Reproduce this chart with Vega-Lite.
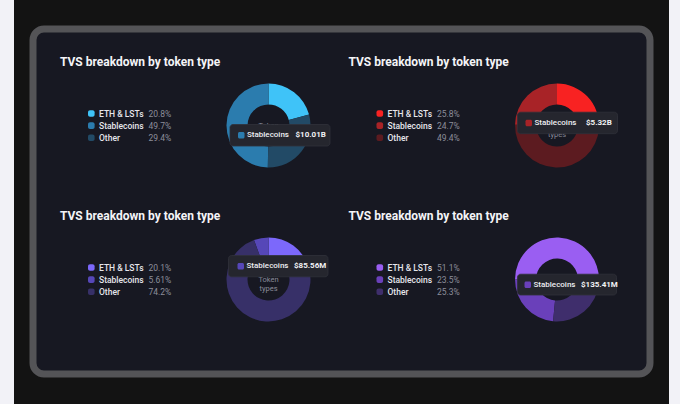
{
  "$schema": "https://vega.github.io/schema/vega-lite/v6.json",
  "background": "#131313",
  "padding": 0,
  "spacing": 15,
  "config": {"view": {"stroke": null}, "font": "Roboto"},
  "datasets": {
    "shares": [
      {"chart": "A", "col": 0, "row": 0, "token": "ETH & LSTs", "key": "A-ETH", "share": 0.208},
      {"chart": "A", "col": 0, "row": 0, "token": "Stablecoins", "key": "A-Stablecoins", "share": 0.497},
      {"chart": "A", "col": 0, "row": 0, "token": "Other", "key": "A-Other", "share": 0.294},
      {"chart": "B", "col": 1, "row": 0, "token": "ETH & LSTs", "key": "B-ETH", "share": 0.258},
      {"chart": "B", "col": 1, "row": 0, "token": "Stablecoins", "key": "B-Stablecoins", "share": 0.247},
      {"chart": "B", "col": 1, "row": 0, "token": "Other", "key": "B-Other", "share": 0.494},
      {"chart": "C", "col": 0, "row": 1, "token": "ETH & LSTs", "key": "C-ETH", "share": 0.201},
      {"chart": "C", "col": 0, "row": 1, "token": "Stablecoins", "key": "C-Stablecoins", "share": 0.0561},
      {"chart": "C", "col": 0, "row": 1, "token": "Other", "key": "C-Other", "share": 0.742},
      {"chart": "D", "col": 1, "row": 1, "token": "ETH & LSTs", "key": "D-ETH", "share": 0.511},
      {"chart": "D", "col": 1, "row": 1, "token": "Stablecoins", "key": "D-Stablecoins", "share": 0.235},
      {"chart": "D", "col": 1, "row": 1, "token": "Other", "key": "D-Other", "share": 0.253}
    ],
    "tips": [
      {"chart": "A", "col": 0, "row": 0, "token": "Stablecoins", "key": "A-Stablecoins", "value": "$10.01B"},
      {"chart": "B", "col": 1, "row": 0, "token": "Stablecoins", "key": "B-Stablecoins", "value": "$5.32B"},
      {"chart": "C", "col": 0, "row": 1, "token": "Stablecoins", "key": "C-Stablecoins", "value": "$85.56M"},
      {"chart": "D", "col": 1, "row": 1, "token": "Stablecoins", "key": "D-Stablecoins", "value": "$135.41M"}
    ]
  },
  "hconcat": [
    {
      "width": 14, "height": 404,
      "view": {"fill": "#f2f2f7", "stroke": null},
      "data": {"values": [{}]},
      "mark": {"type": "rect", "opacity": 0},
      "encoding": {}
    },
    {
      "spacing": 24,
      "vconcat": [
        {
          "width": 1, "height": 1,
          "data": {"values": [{}]},
          "mark": {"type": "rect", "opacity": 0},
          "encoding": {}
        },
        {
          "width": 617, "height": 345,
          "view": {"fill": "#171822", "stroke": "#545457", "strokeWidth": 7, "cornerRadius": 11},
          "data": {"name": "shares"},
          "encoding": {
            "x": {"field": "col", "type": "quantitative", "scale": {"domain": [0, 1], "range": [0, 288.5], "nice": false, "zero": false}, "axis": null},
            "y": {"field": "row", "type": "quantitative", "scale": {"domain": [0, 1], "range": [0, 154], "nice": false, "zero": false}, "axis": null}
          },
          "resolve": {"scale": {"theta": "independent"}},
          "layer": [
            {
              "transform": [{"filter": "datum.token === 'ETH & LSTs'"}],
              "mark": {"type": "text", "text": "TVS breakdown by token type", "align": "left", "baseline": "alphabetic", "fontSize": 12, "fontWeight": "bold", "color": "#f4f4f7", "xOffset": 27, "yOffset": 36.5}
            },
            {
              "transform": [
                {"filter": "datum.chart !== 'D'"},
                {"stack": "share", "groupby": ["chart"], "offset": "normalize", "sort": [{"field": "token", "order": "ascending"}], "as": ["t0", "t1"]}
              ],
              "mark": {"type": "arc", "outerRadius": 42, "innerRadius": 21, "xOffset": 235.5, "yOffset": 96.5},
              "encoding": {
                "theta": {"field": "t0", "type": "quantitative", "scale": {"domain": [0, 1], "range": [0, 6.2832]}},
                "theta2": {"field": "t1"},
                "color": {"field": "key", "type": "nominal", "legend": null, "scale": {"domain": ["A-ETH", "A-Stablecoins", "A-Other", "B-ETH", "B-Stablecoins", "B-Other", "C-ETH", "C-Stablecoins", "C-Other", "D-ETH", "D-Stablecoins", "D-Other"], "range": ["#3fc3f8", "#2b7cae", "#224a66", "#f82222", "#a82327", "#5c1b20", "#7c68fb", "#5647b8", "#373068", "#9a5ef2", "#6a40ba", "#3f2e6c"]}}
              }
            },
            {
              "transform": [
                {"filter": "datum.chart === 'D'"},
                {"stack": "share", "groupby": ["chart"], "offset": "normalize", "sort": [{"field": "token", "order": "ascending"}], "as": ["t0", "t1"]}
              ],
              "mark": {"type": "arc", "outerRadius": 42, "innerRadius": 21, "xOffset": 235.5, "yOffset": 96.5},
              "encoding": {
                "theta": {"field": "t0", "type": "quantitative", "scale": {"domain": [0, 1], "range": [-1.5708, 4.7124]}},
                "theta2": {"field": "t1"},
                "color": {"field": "key", "type": "nominal", "legend": null, "scale": {"domain": ["A-ETH", "A-Stablecoins", "A-Other", "B-ETH", "B-Stablecoins", "B-Other", "C-ETH", "C-Stablecoins", "C-Other", "D-ETH", "D-Stablecoins", "D-Other"], "range": ["#3fc3f8", "#2b7cae", "#224a66", "#f82222", "#a82327", "#5c1b20", "#7c68fb", "#5647b8", "#373068", "#9a5ef2", "#6a40ba", "#3f2e6c"]}}
              }
            },
            {
              "transform": [{"filter": "datum.token === 'ETH & LSTs'"}],
              "mark": {"type": "text", "text": "Token types", "lineBreak": " ", "lineHeight": 9, "align": "center", "baseline": "middle", "fontSize": 7.5, "color": "#8a8c99", "xOffset": 235.5, "yOffset": 96.5}
            },
            {
              "transform": [{"filter": "datum.token === 'ETH & LSTs'"}],
              "layer": [
                {
                  "mark": {"type": "rect", "cornerRadius": 2, "xOffset": 55, "x2Offset": 61.6, "yOffset": 81.2, "y2Offset": 87.8},
                  "encoding": {
                    "x2": {"field": "col"}, "y2": {"field": "row"},
                    "color": {"field": "key", "type": "nominal", "legend": null, "scale": {"domain": ["A-ETH", "A-Stablecoins", "A-Other", "B-ETH", "B-Stablecoins", "B-Other", "C-ETH", "C-Stablecoins", "C-Other", "D-ETH", "D-Stablecoins", "D-Other"], "range": ["#3fc3f8", "#2b7cae", "#224a66", "#f82222", "#a82327", "#5c1b20", "#7c68fb", "#5647b8", "#373068", "#9a5ef2", "#6a40ba", "#3f2e6c"]}}
                  }
                },
                {"mark": {"type": "text", "align": "left", "baseline": "middle", "fontSize": 8.5, "fontWeight": 500, "color": "#e6e6ec", "xOffset": 66, "yOffset": 84.5}, "encoding": {"text": {"field": "token"}}},
                {"mark": {"type": "text", "align": "left", "baseline": "middle", "fontSize": 8.5, "color": "#8c8e9a", "xOffset": 115.5, "yOffset": 84.5}, "encoding": {"text": {"field": "share", "format": ".3p"}}}
              ]
            },
            {
              "transform": [{"filter": "datum.token === 'Stablecoins'"}],
              "layer": [
                {
                  "mark": {"type": "rect", "cornerRadius": 2, "xOffset": 55, "x2Offset": 61.6, "yOffset": 93.3, "y2Offset": 99.9},
                  "encoding": {
                    "x2": {"field": "col"}, "y2": {"field": "row"},
                    "color": {"field": "key", "type": "nominal", "legend": null, "scale": {"domain": ["A-ETH", "A-Stablecoins", "A-Other", "B-ETH", "B-Stablecoins", "B-Other", "C-ETH", "C-Stablecoins", "C-Other", "D-ETH", "D-Stablecoins", "D-Other"], "range": ["#3fc3f8", "#2b7cae", "#224a66", "#f82222", "#a82327", "#5c1b20", "#7c68fb", "#5647b8", "#373068", "#9a5ef2", "#6a40ba", "#3f2e6c"]}}
                  }
                },
                {"mark": {"type": "text", "align": "left", "baseline": "middle", "fontSize": 8.5, "fontWeight": 500, "color": "#e6e6ec", "xOffset": 66, "yOffset": 96.6}, "encoding": {"text": {"field": "token"}}},
                {"mark": {"type": "text", "align": "left", "baseline": "middle", "fontSize": 8.5, "color": "#8c8e9a", "xOffset": 115.5, "yOffset": 96.6}, "encoding": {"text": {"field": "share", "format": ".3p"}}}
              ]
            },
            {
              "transform": [{"filter": "datum.token === 'Other'"}],
              "layer": [
                {
                  "mark": {"type": "rect", "cornerRadius": 2, "xOffset": 55, "x2Offset": 61.6, "yOffset": 105.4, "y2Offset": 112},
                  "encoding": {
                    "x2": {"field": "col"}, "y2": {"field": "row"},
                    "color": {"field": "key", "type": "nominal", "legend": null, "scale": {"domain": ["A-ETH", "A-Stablecoins", "A-Other", "B-ETH", "B-Stablecoins", "B-Other", "C-ETH", "C-Stablecoins", "C-Other", "D-ETH", "D-Stablecoins", "D-Other"], "range": ["#3fc3f8", "#2b7cae", "#224a66", "#f82222", "#a82327", "#5c1b20", "#7c68fb", "#5647b8", "#373068", "#9a5ef2", "#6a40ba", "#3f2e6c"]}}
                  }
                },
                {"mark": {"type": "text", "align": "left", "baseline": "middle", "fontSize": 8.5, "fontWeight": 500, "color": "#e6e6ec", "xOffset": 66, "yOffset": 108.7}, "encoding": {"text": {"field": "token"}}},
                {"mark": {"type": "text", "align": "left", "baseline": "middle", "fontSize": 8.5, "color": "#8c8e9a", "xOffset": 115.5, "yOffset": 108.7}, "encoding": {"text": {"field": "share", "format": ".3p"}}}
              ]
            },
            {
              "data": {"name": "tips"},
              "transform": [{"filter": "datum.chart === 'A'"}],
              "layer": [
                {"mark": {"type": "rect", "fill": "#25262e", "stroke": "#30313a", "strokeWidth": 0.8, "cornerRadius": 3, "xOffset": 197, "x2Offset": 297, "yOffset": 95.5, "y2Offset": 117}, "encoding": {"x2": {"field": "col"}, "y2": {"field": "row"}}},
                {
                  "mark": {"type": "rect", "cornerRadius": 1.5, "xOffset": 205, "x2Offset": 211.5, "yOffset": 103, "y2Offset": 109.5},
                  "encoding": {
                    "x2": {"field": "col"}, "y2": {"field": "row"},
                    "color": {"field": "key", "type": "nominal", "legend": null, "scale": {"domain": ["A-ETH", "A-Stablecoins", "A-Other", "B-ETH", "B-Stablecoins", "B-Other", "C-ETH", "C-Stablecoins", "C-Other", "D-ETH", "D-Stablecoins", "D-Other"], "range": ["#3fc3f8", "#2b7cae", "#224a66", "#f82222", "#a82327", "#5c1b20", "#7c68fb", "#5647b8", "#373068", "#9a5ef2", "#6a40ba", "#3f2e6c"]}}
                  }
                },
                {"mark": {"type": "text", "align": "left", "baseline": "middle", "fontSize": 8, "fontWeight": 500, "color": "#eeeef2", "xOffset": 214, "yOffset": 106.3}, "encoding": {"text": {"field": "token"}}},
                {"mark": {"type": "text", "align": "left", "baseline": "middle", "fontSize": 8, "fontWeight": "bold", "color": "#f2f2f5", "xOffset": 262.5, "yOffset": 106.3}, "encoding": {"text": {"field": "value"}}}
              ]
            },
            {
              "data": {"name": "tips"},
              "transform": [{"filter": "datum.chart === 'B'"}],
              "layer": [
                {"mark": {"type": "rect", "fill": "#25262e", "stroke": "#30313a", "strokeWidth": 0.8, "cornerRadius": 3, "xOffset": 196, "x2Offset": 296, "yOffset": 83.2, "y2Offset": 104.7}, "encoding": {"x2": {"field": "col"}, "y2": {"field": "row"}}},
                {
                  "mark": {"type": "rect", "cornerRadius": 1.5, "xOffset": 204, "x2Offset": 210.5, "yOffset": 90.7, "y2Offset": 97.2},
                  "encoding": {
                    "x2": {"field": "col"}, "y2": {"field": "row"},
                    "color": {"field": "key", "type": "nominal", "legend": null, "scale": {"domain": ["A-ETH", "A-Stablecoins", "A-Other", "B-ETH", "B-Stablecoins", "B-Other", "C-ETH", "C-Stablecoins", "C-Other", "D-ETH", "D-Stablecoins", "D-Other"], "range": ["#3fc3f8", "#2b7cae", "#224a66", "#f82222", "#a82327", "#5c1b20", "#7c68fb", "#5647b8", "#373068", "#9a5ef2", "#6a40ba", "#3f2e6c"]}}
                  }
                },
                {"mark": {"type": "text", "align": "left", "baseline": "middle", "fontSize": 8, "fontWeight": 500, "color": "#eeeef2", "xOffset": 213, "yOffset": 94}, "encoding": {"text": {"field": "token"}}},
                {"mark": {"type": "text", "align": "left", "baseline": "middle", "fontSize": 8, "fontWeight": "bold", "color": "#f2f2f5", "xOffset": 264.5, "yOffset": 94}, "encoding": {"text": {"field": "value"}}}
              ]
            },
            {
              "data": {"name": "tips"},
              "transform": [{"filter": "datum.chart === 'C'"}],
              "layer": [
                {"mark": {"type": "rect", "fill": "#25262e", "stroke": "#30313a", "strokeWidth": 0.8, "cornerRadius": 3, "xOffset": 195.5, "x2Offset": 295, "yOffset": 72.5, "y2Offset": 93.8}, "encoding": {"x2": {"field": "col"}, "y2": {"field": "row"}}},
                {
                  "mark": {"type": "rect", "cornerRadius": 1.5, "xOffset": 204.5, "x2Offset": 211, "yOffset": 79.9, "y2Offset": 86.4},
                  "encoding": {
                    "x2": {"field": "col"}, "y2": {"field": "row"},
                    "color": {"field": "key", "type": "nominal", "legend": null, "scale": {"domain": ["A-ETH", "A-Stablecoins", "A-Other", "B-ETH", "B-Stablecoins", "B-Other", "C-ETH", "C-Stablecoins", "C-Other", "D-ETH", "D-Stablecoins", "D-Other"], "range": ["#3fc3f8", "#2b7cae", "#224a66", "#f82222", "#a82327", "#5c1b20", "#7c68fb", "#5647b8", "#373068", "#9a5ef2", "#6a40ba", "#3f2e6c"]}}
                  }
                },
                {"mark": {"type": "text", "align": "left", "baseline": "middle", "fontSize": 8, "fontWeight": 500, "color": "#eeeef2", "xOffset": 213.5, "yOffset": 83.2}, "encoding": {"text": {"field": "token"}}},
                {"mark": {"type": "text", "align": "left", "baseline": "middle", "fontSize": 8, "fontWeight": "bold", "color": "#f2f2f5", "xOffset": 261, "yOffset": 83.2}, "encoding": {"text": {"field": "value"}}}
              ]
            },
            {
              "data": {"name": "tips"},
              "transform": [{"filter": "datum.chart === 'D'"}],
              "layer": [
                {"mark": {"type": "rect", "fill": "#25262e", "stroke": "#30313a", "strokeWidth": 0.8, "cornerRadius": 3, "xOffset": 196, "x2Offset": 295, "yOffset": 91.2, "y2Offset": 112}, "encoding": {"x2": {"field": "col"}, "y2": {"field": "row"}}},
                {
                  "mark": {"type": "rect", "cornerRadius": 1.5, "xOffset": 203, "x2Offset": 209.5, "yOffset": 98.4, "y2Offset": 104.9},
                  "encoding": {
                    "x2": {"field": "col"}, "y2": {"field": "row"},
                    "color": {"field": "key", "type": "nominal", "legend": null, "scale": {"domain": ["A-ETH", "A-Stablecoins", "A-Other", "B-ETH", "B-Stablecoins", "B-Other", "C-ETH", "C-Stablecoins", "C-Other", "D-ETH", "D-Stablecoins", "D-Other"], "range": ["#3fc3f8", "#2b7cae", "#224a66", "#f82222", "#a82327", "#5c1b20", "#7c68fb", "#5647b8", "#373068", "#9a5ef2", "#6a40ba", "#3f2e6c"]}}
                  }
                },
                {"mark": {"type": "text", "align": "left", "baseline": "middle", "fontSize": 8, "fontWeight": 500, "color": "#eeeef2", "xOffset": 212, "yOffset": 101.6}, "encoding": {"text": {"field": "token"}}},
                {"mark": {"type": "text", "align": "left", "baseline": "middle", "fontSize": 8, "fontWeight": "bold", "color": "#f2f2f5", "xOffset": 259.5, "yOffset": 101.6}, "encoding": {"text": {"field": "value"}}}
              ]
            }
          ]
        }
      ]
    },
    {
      "width": 12, "height": 404,
      "view": {"fill": "#f2f2f7", "stroke": null},
      "data": {"values": [{}]},
      "mark": {"type": "rect", "opacity": 0},
      "encoding": {}
    }
  ]
}
